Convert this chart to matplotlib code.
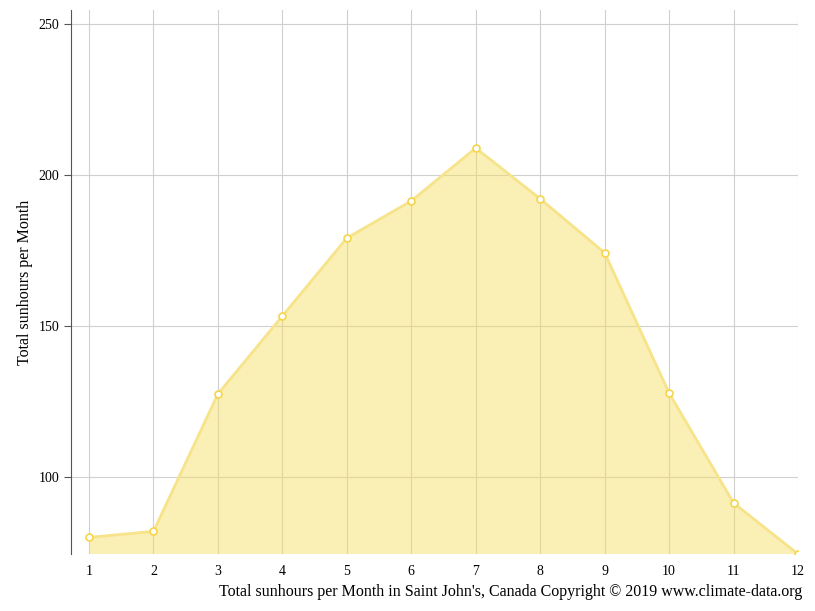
import matplotlib
matplotlib.use('Agg')
import matplotlib.pyplot as plt

months = list(range(1, 13))
sunhours = [80, 82, 127.5, 153.3, 179.1, 191.4, 208.9, 192.1, 174.2, 127.8, 91.4, 74.5]
yticks = [100, 150, 200, 250]

plt.rcParams['font.family'] = ['Liberation Serif', 'DejaVu Serif']

fig = plt.figure(figsize=(8.15, 6.11), dpi=100)
ax = fig.add_axes([71/815, 1-554/611, (798-71)/815, (554-10)/611])

ax.grid(True, color='#d0d0d0', lw=0.8, zorder=1)
ax.fill_between(months, sunhours, 0, color='#f5dc5a', alpha=0.45, lw=0, zorder=2)
ax.plot(months, sunhours, color='#f7e38a', lw=2, zorder=3)
ax.plot(months, sunhours, 'o', ms=5, mfc='white', mec='#f5d54a', mew=1.2, zorder=4)

ax.set_xlim(0.72, 12)
ax.set_ylim(74.5, 254.6)
ax.set_xticks(months)
ax.set_yticks(yticks)
for s in ['top', 'right', 'bottom']:
    ax.spines[s].set_visible(False)
ax.spines['left'].set_color('#555555')
ax.tick_params(axis='x', length=0, pad=8, labelsize=10)
ax.tick_params(axis='y', length=5, color='#555555', labelsize=10)
ax.set_ylabel('Total sunhours per Month', fontsize=11.5)
fig.text(802/815, 1-592/611, "Total sunhours per Month in Saint John's, Canada Copyright \u00a9 2019 www.climate-data.org",
         ha='right', va='center', fontsize=11.5)

fig.savefig('out.png', dpi=100)
